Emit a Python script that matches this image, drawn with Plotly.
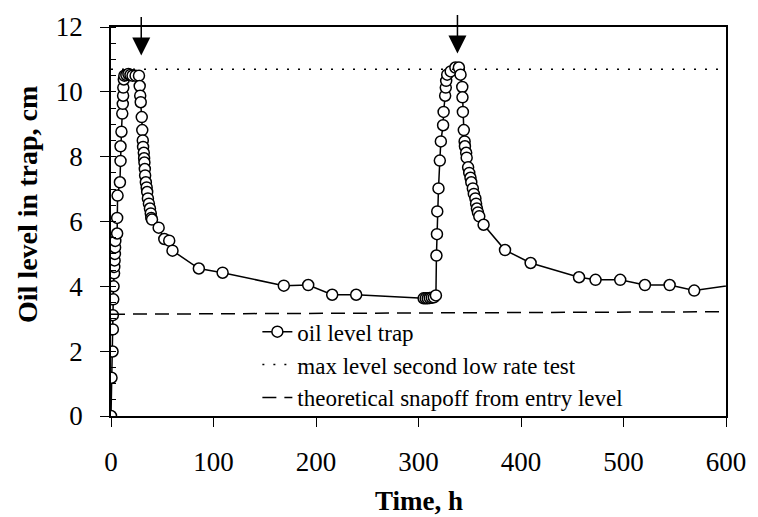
import plotly.graph_objects as go

# ---- data ----
time_h = [0, 0.5, 1.5, 1.8, 1.8, 2.2, 2.5, 3.0, 3.2, 3.5, 3.8, 4.0, 4.2, 6.0, 6.0, 6.4,
          8.7, 9.3, 9.3, 10.2, 11.0, 11.5, 11.8, 12.0, 12.5, 13.0, 15.0, 17.0, 19.0, 21.0,
          24.0, 27.3,
          28.0, 28.5, 29.0, 30.0, 30.5, 31.0, 31.3, 32.0, 32.3, 32.6, 33.0, 33.3, 34.0,
          34.8, 35.3, 36.0, 37.0, 38.0, 38.8, 39.3, 40.0, 46.5, 52.0, 56.8, 60.0, 85.7,
          108.9, 168.6, 192.4, 215.8, 239.2,
          305, 307, 309, 311, 313, 315, 317,
          317.5, 318, 318.3, 319.5, 320.8, 321.8, 324, 324.5, 326, 326.6, 327, 328, 331.4,
          336, 339.4, 341,
          342.7, 342.9, 343.3, 344.2, 345, 345.3, 346.5, 347, 348.4, 349.5, 350.7, 351.5,
          353, 354, 355.5, 356.2, 357, 358, 359.3, 363.5, 384.4, 409.4, 456.6, 472.7,
          496.8, 520.9, 545, 569, 625]
oil_level = [0, 1.18, 1.99, 2.67, 3.11, 3.6, 4.0, 4.4, 4.6, 4.8, 5.0, 5.2, 5.4, 5.63, 6.11, 6.8,
             7.21, 7.87, 8.32, 8.77, 9.33, 9.63, 9.88, 10.13, 10.38, 10.5, 10.52, 10.55, 10.52, 10.5,
             10.5, 10.5,
             10.18, 9.88, 9.68, 9.22, 8.82, 8.5, 8.3, 8.12, 7.95, 7.82, 7.62, 7.42, 7.21,
             7.05, 6.91, 6.71, 6.55, 6.4, 6.25, 6.11, 6.06, 5.81, 5.46, 5.41, 5.1, 4.55,
             4.42, 4.02, 4.04, 3.74, 3.74,
             3.63, 3.63, 3.63, 3.64, 3.65, 3.66, 3.72,
             4.95, 5.61, 6.31, 7.02, 7.88, 8.47, 8.97, 9.38, 9.88, 10.13, 10.34, 10.53, 10.63,
             10.75, 10.75, 10.53,
             10.15, 9.83, 9.38, 8.82, 8.47, 8.32, 8.12, 7.97, 7.67, 7.5, 7.35, 7.21,
             7.02, 6.85, 6.71, 6.55, 6.4, 6.28, 6.16, 5.9, 5.12, 4.72, 4.28, 4.2,
             4.2, 4.04, 4.04, 3.87, 4.12]

max_level_x = [0, 620]
max_level_y = [10.7, 10.7]
snapoff_x = [0, 620]
snapoff_y = [3.14, 3.22]

arrow_times = [29.5, 338]
arrow_tip_level = [11.12, 11.18]

x_ticks = [0, 100, 200, 300, 400, 500, 600]
y_ticks = [0, 2, 4, 6, 8, 10, 12]

FONT = "Liberation Serif, Times New Roman, serif"

fig = go.Figure()
fig.add_trace(go.Scatter(
    x=time_h, y=oil_level, mode="lines+markers", name="oil level trap",
    line=dict(color="black", width=1.5),
    marker=dict(symbol="circle", size=11, color="white",
                line=dict(color="black", width=1.5)),
))
fig.add_trace(go.Scatter(
    x=max_level_x, y=max_level_y, mode="lines", name="max level second low rate test",
    line=dict(color="black", width=1.5, dash="2px,9px"),
))
fig.add_trace(go.Scatter(
    x=snapoff_x, y=snapoff_y, mode="lines", name="theoretical snapoff from entry level",
    line=dict(color="black", width=1.5, dash="14px,8px"),
))

for t, lv in zip(arrow_times, arrow_tip_level):
    fig.add_annotation(x=t, y=lv, xref="x", yref="y", ax=0, ay=-40,
                       showarrow=True, arrowhead=2, arrowsize=2.4, arrowwidth=1.5,
                       arrowcolor="black", text="")

fig.add_annotation(text="<b>Oil level in trap, cm</b>", xref="paper", yref="paper",
                   x=-0.135, y=0.545, textangle=-90, showarrow=False,
                   xanchor="center", yanchor="middle",
                   font=dict(family=FONT, size=28, color="black"))
fig.add_annotation(text="<b>Time, h</b>", xref="paper", yref="paper",
                   x=0.5, y=-0.2186, showarrow=False,
                   xanchor="center", yanchor="middle",
                   font=dict(family=FONT, size=27, color="black"))

fig.update_layout(
    width=758, height=517,
    margin=dict(l=111, r=25, t=18, b=101),
    paper_bgcolor="white", plot_bgcolor="white",
    font=dict(family=FONT, color="black"),
    showlegend=True,
    legend=dict(x=0.238, y=0.272, xanchor="left", yanchor="top",
                bgcolor="rgba(0,0,0,0)", borderwidth=0,
                font=dict(family=FONT, size=23, color="black"),
                tracegroupgap=0),
    xaxis=dict(range=[0, 600], tickvals=x_ticks, showgrid=False, zeroline=False,
               showline=True, linecolor="black", linewidth=1.5, mirror=True,
               ticks="outside", ticklen=9, tickwidth=1.2, tickcolor="black",
               tickfont=dict(family=FONT, size=27, color="black"),
               ticklabelstandoff=12),
    xaxis2=dict(range=[0, 600], tickvals=x_ticks, overlaying="x", anchor="y",
                side="bottom", showgrid=False, zeroline=False, showline=False,
                ticks="inside", ticklen=6, tickwidth=1.2, tickcolor="black",
                showticklabels=False),
    yaxis=dict(range=[0, 12], tickvals=y_ticks, showgrid=False, zeroline=False,
               showline=True, linecolor="black", linewidth=1.5, mirror=True,
               ticks="outside", ticklen=9, tickwidth=1.2, tickcolor="black",
               tickfont=dict(family=FONT, size=27, color="black"),
               ticklabelstandoff=12,
               minor=dict(ticks="inside", dtick=0.5, ticklen=5, tickwidth=1, tickcolor="black")),
)

fig.write_html("out.html")
